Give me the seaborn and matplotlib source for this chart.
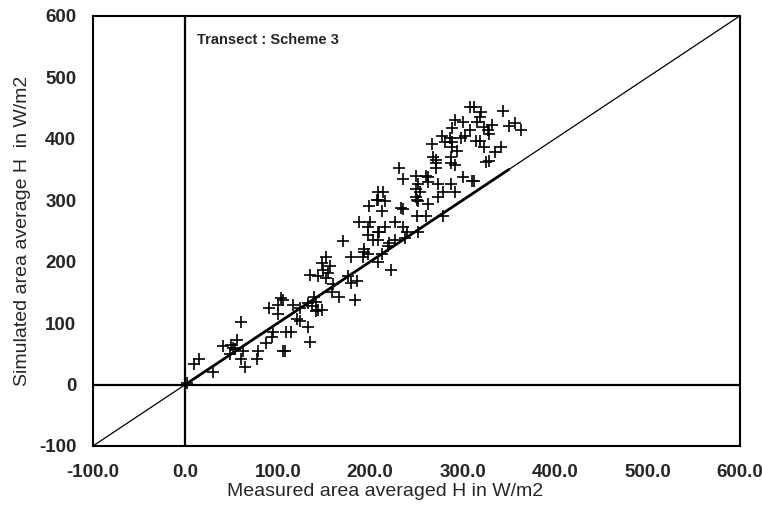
import pandas as pd
import seaborn as sns
import matplotlib.pyplot as plt
from matplotlib.ticker import MultipleLocator, FormatStrFormatter

sns.set_style("white")
plt.rcParams['font.family'] = ['Liberation Sans', 'DejaVu Sans']
plt.rcParams['axes.unicode_minus'] = False

OUTPUT_PATH = "out.png"

# measured (x) vs simulated (y) area averaged H, W/m2
measured = [
    2, 9, 15, 30, 41, 49, 52, 56, 54, 60, 62, 60, 65, 48, 78, 79, 87, 94, 95, 106,
    90, 100, 103, 100, 109,
    152, 148, 157, 149, 154, 135, 144, 152, 179, 192, 193, 198, 208, 176, 179, 186,
    160, 159, 166, 184, 139, 141, 133, 137, 144, 148, 141, 116, 106, 124, 121, 124,
    133, 114, 135, 108,
    208, 207, 199, 188, 200, 198, 208, 198, 203, 171, 193,
    231, 271, 271, 287, 292, 249, 235, 260, 263, 262, 273, 252, 249, 287, 300, 310,
    292, 279, 273, 254, 249, 251, 252, 262, 214, 208, 216, 213, 233, 235, 251, 260,
    279, 227, 216, 209, 235, 240, 252, 238, 227, 220, 208, 219, 213, 222,
    308, 292, 300, 288, 308, 278, 286, 298, 303, 281, 289, 267, 288, 294, 268, 287,
    271,
    312, 320, 319, 344, 316, 332, 323, 350, 357, 363, 327, 328, 314, 319, 323, 341,
    335, 325, 328, 312,
]
simulated = [
    3, 33, 42, 21, 62, 64, 59, 72, 57, 101, 54, 41, 29, 49, 41, 55, 68, 77, 86, 54,
    125, 130, 141, 114, 85,
    207, 198, 193, 187, 182, 178, 176, 174, 208, 207, 215, 212, 200, 176, 166, 168,
    163, 151, 143, 138, 143, 135, 133, 127, 122, 121, 119, 130, 138, 125, 106, 103,
    93, 86, 70, 54,
    313, 301, 290, 264, 264, 256, 249, 244, 236, 233, 220,
    353, 361, 353, 360, 357, 339, 334, 339, 337, 329, 326, 326, 318, 326, 337, 331,
    314, 314, 306, 313, 306, 301, 298, 293, 313, 301, 298, 282, 287, 285, 274, 274,
    274, 265, 256, 249, 257, 249, 248, 239, 236, 231, 236, 225, 212, 187,
    451, 430, 428, 418, 415, 405, 402, 402, 404, 394, 394, 391, 386, 380, 371, 370,
    365,
    451, 443, 436, 445, 428, 423, 419, 420, 425, 415, 415, 407, 396, 396, 386, 386,
    378, 362, 363, 331,
]

x_ticks = [-100, 0, 100, 200, 300, 400, 500, 600]
y_ticks = [-100, 0, 100, 200, 300, 400, 500, 600]

df = pd.DataFrame({"measured": measured, "simulated": simulated})

fig = plt.figure(figsize=(7.62, 5.12), dpi=100)
ax = fig.add_axes([0.122, 0.129, 0.849, 0.840])

# reference lines: axes through zero, 1:1 line, fitted segment
ax.axhline(0, color="black", lw=1.6, zorder=1)
ax.axvline(0, color="black", lw=1.6, zorder=1)
ax.plot([-100, 600], [-100, 600], color="black", lw=0.9, zorder=1)
ax.plot([0, 350], [0, 350], color="black", lw=2.0, zorder=1)

sns.scatterplot(data=df, x="measured", y="simulated", marker="+", color="black",
                s=65, linewidth=1.2, ax=ax, zorder=2)

ax.set_xlim(-100, 600)
ax.set_ylim(-100, 600)
ax.set_xticks(x_ticks)
ax.set_yticks(y_ticks)
ax.xaxis.set_major_formatter(FormatStrFormatter("%.1f"))
ax.yaxis.set_minor_locator(MultipleLocator(50))
ax.tick_params(axis="both", which="both", direction="inout", length=8, width=1,
               labelsize=13.5)
ax.tick_params(axis="x", which="major", pad=9)
ax.tick_params(axis="y", which="major", pad=8)
ax.tick_params(axis="y", which="minor", length=6)
for lbl in ax.get_xticklabels() + ax.get_yticklabels():
    lbl.set_fontweight("bold")

for sp in ax.spines.values():
    sp.set_linewidth(1.5)
    sp.set_color("black")

ax.text(13, 555, "Transect : Scheme 3", fontsize=10.5, fontweight="bold")
ax.set_xlabel("Measured area averaged H in W/m2", fontsize=14)
ax.xaxis.set_label_coords(0.452, -0.085)
ax.set_ylabel("Simulated area average H  in W/m2", fontsize=14, labelpad=6)

fig.savefig(OUTPUT_PATH, dpi=100)
plt.close(fig)
